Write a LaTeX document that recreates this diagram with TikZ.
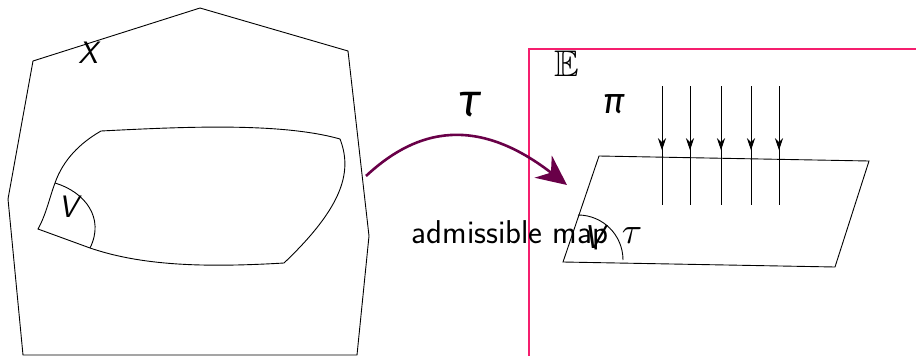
\documentclass[tikz,border=0pt]{standalone}
\usepackage{graphicx}
\usepackage{fontspec}
\usepackage{amssymb}
\newfontfamily\grkfont{Fira Sans}
\usetikzlibrary{arrows.meta,decorations.markings}
\definecolor{arrowpurple}{RGB}{105,0,72}
\definecolor{framepink}{RGB}{245,30,110}
\tikzset{
  shape line/.style={draw=black,line width=0.9pt},
  midarrow/.style={line width=0.9pt,postaction={decorate},decoration={markings,mark=at position 0.54 with {\arrow{Stealth[length=12pt,width=8pt]}}}},
  big label/.style={font=\fontsize{31}{34}\selectfont\sffamily\itshape,inner sep=0pt},
}
\begin{document}
\begin{tikzpicture}[x=1pt,y=-1pt]
\useasboundingbox (0,0) rectangle (916,356);
% frame E
\draw[framepink,line width=1.1pt] (529,357) -- (529,49) -- (920,49);
\node[inner sep=0pt] (E) at (567,64) {\scalebox{3.7}{$\mathbb{E}$}};
% outer polygon X
\draw[shape line] (33,61) -- (200,8) -- (348,51) -- (369,236) -- (357,355) -- (23,355) -- (8,199) -- cycle;
\node[big label] (X) at (88,53) {X};
% inner region
\draw[shape line] (38,229) .. controls (46,215) and (50,196) .. (55,183)
  .. controls (63,160) and (80,143) .. (101,131)
  .. controls (180,127) and (280,122) .. (340,139)
  .. controls (352,170) and (345,205) .. (284,263)
  .. controls (200,268) and (140,265) .. (90,248)
  -- cycle;
\draw[shape line] (55,183) .. controls (85,192) and (105,218) .. (90,248);
\node[big label] (V) at (68,207) {V};
% main arrow
\coordinate (a0) at (366,176);
\coordinate (a1) at (567,185);
\draw[arrowpurple,line width=2.6pt,-{Stealth[length=30pt,width=28pt]}] (a0) .. controls (410,135) and (470,110) .. (a1);
\node[inner sep=0pt] (tau) at (470,105) {\fontsize{46}{48}\selectfont\grkfont\itshape τ};
\node[inner sep=0pt,anchor=base] (adm) at (510,243) {\fontsize{33}{36}\selectfont\sffamily admissible map};
% plane
\draw[shape line] (599,156) -- (869,161) -- (835,267) -- (563,262) -- cycle;
\draw[shape line] (578,215) arc[start angle=-90,end angle=0,radius=45];
\node[inner sep=0pt,font=\fontsize{33}{36}\selectfont\sffamily\itshape] (V2) at (594,237) {V};
\node[inner sep=0pt] (tau2) at (632,236) {\scalebox{3.7}{$\tau$}};
\node[inner sep=0pt] (pi) at (614,104) {\fontsize{36}{38}\selectfont\grkfont\itshape π};
% projection arrows
\foreach \x/\n in {662/1,690/2,721/3,751/4,779/5}{
  \coordinate (t\n) at (\x,86);
  \coordinate (b\n) at (\x,205);
  \draw[midarrow] (t\n) -- (b\n);
}
\end{tikzpicture}
\end{document}
